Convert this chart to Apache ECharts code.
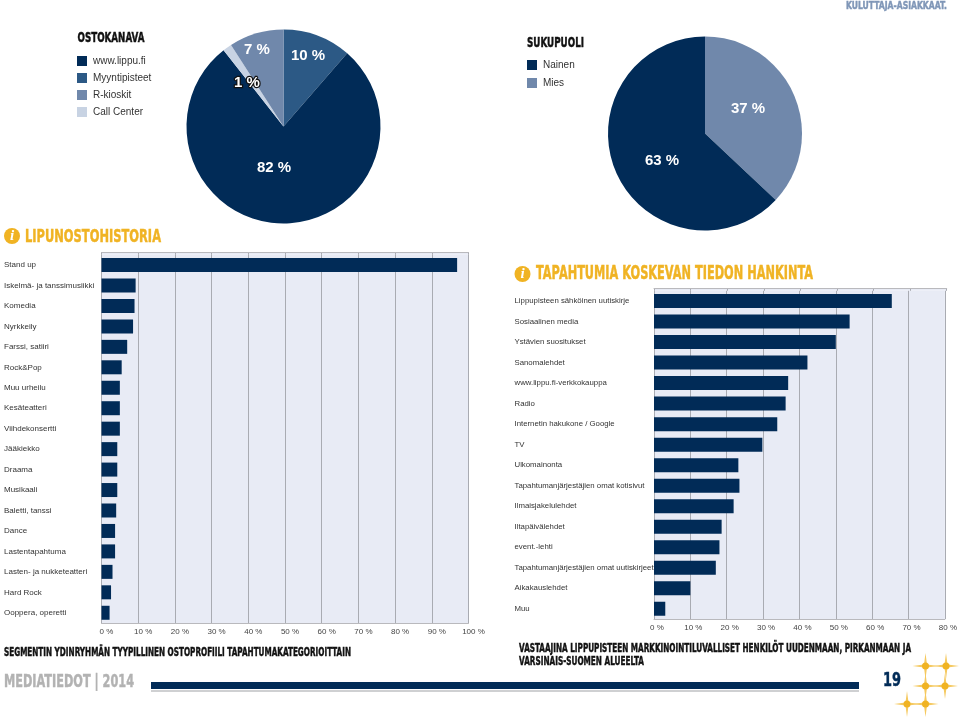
<!DOCTYPE html>
<html>
<head>
<meta charset="utf-8">
<script src="https://cdn.jsdelivr.net/npm/echarts@6/dist/echarts.min.js"></script>
<style>
html, body { margin: 0; padding: 0; background: #fff; }
#chart { width: 960px; height: 719px; }
</style>
</head>
<body>
<div id="chart"></div>
<script>
var channelNames = ['Myyntipisteet', 'www.lippu.fi', 'Call Center', 'R-kioskit'];
var channelShares = [11.4, 78, 1.5, 9.1];
var channelLabels = ['10 %', '82 %', '1 %', '7 %'];
var channelLegend = ['www.lippu.fi', 'Myyntipisteet', 'R-kioskit', 'Call Center'];

var genderNames = ['Mies', 'Nainen'];
var genderValues = [37, 63];
var genderLabels = ['37 %', '63 %'];
var genderLegend = ['Nainen', 'Mies'];

var eventCats = ['Stand up', 'Iskelmä- ja tanssimusiikki', 'Komedia', 'Nyrkkeily', 'Farssi, satiiri', 'Rock&Pop',
    'Muu urheilu', 'Kesäteatteri', 'Viihdekonsertti', 'Jääkiekko', 'Draama', 'Musikaali', 'Baletti, tanssi',
    'Dance', 'Lastentapahtuma', 'Lasten- ja nukketeatteri', 'Hard Rock', 'Ooppera, operetti'];
var eventValues = [96.9, 9.3, 9, 8.6, 7, 5.5, 5, 5, 5, 4.3, 4.3, 4.3, 4, 3.7, 3.7, 3, 2.6, 2.2];

var sourceCats = ['Lippupisteen sähköinen uutiskirje', 'Sosiaalinen media', 'Ystävien suositukset', 'Sanomalehdet',
    'www.lippu.fi-verkkokauppa', 'Radio', 'Internetin hakukone / Google', 'TV', 'Ulkomainonta',
    'Tapahtumanjärjestäjien omat kotisivut', 'Ilmaisjakelulehdet', 'Iltapäivälehdet', 'event.-lehti',
    'Tapahtumanjärjestäjien omat uutiskirjeet', 'Aikakauslehdet', 'Muu'];
var sourceValues = [65.4, 53.8, 50, 42.2, 36.9, 36.2, 33.9, 29.8, 23.2, 23.5, 21.9, 18.6, 18, 17, 10, 3.1];

var navy = '#012b57';
var gold = '#f0b323';
var sans = '"Liberation Sans", Arial, sans-serif';
var headFont = '"DejaVu Sans", sans-serif';
var colors = { 'www.lippu.fi': navy, 'Myyntipisteet': '#2c5985', 'R-kioskit': '#7088ab', 'Call Center': '#c8d3e3',
               'Nainen': navy, 'Mies': '#7088ab' };

var chart = echarts.init(document.getElementById('chart'));
var measure = document.createElement('canvas').getContext('2d');

function pieSeries(center, names, values, labels, spots){
    var data = [];
    for(var i in names){
        var item = { name: names[i], value: values[i], itemStyle: { color: colors[names[i]] } };
        // the small slice label sits across two colours, so it has a dark outline
        if(labels[i] == '1 %')
            item.label = { textBorderColor: '#111', textBorderWidth: 2.5 };
        data.push(item);
    }
    return {
        type: 'pie',
        silent: true,
        center: center,
        radius: 97,
        data: data,
        labelLine: { show: false },
        label: {
            position: 'inside',
            color: '#fff',
            fontFamily: sans,
            fontSize: 15,
            fontWeight: 'bold',
            formatter: function(p){
                return labels[p.dataIndex];
            }
        },
        labelLayout: function(p){
            return { x: spots[p.dataIndex][0], y: spots[p.dataIndex][1], align: 'center', verticalAlign: 'middle' };
        }
    };
}

function legendAt(left, top, gap, names){
    return {
        orient: 'vertical',
        left: left,
        top: top,
        padding: 0,
        itemWidth: 10,
        itemHeight: 10,
        itemGap: gap,
        icon: 'rect',
        selectedMode: false,
        data: names,
        textStyle: { fontFamily: sans, fontSize: 10, color: '#333', padding: [0, 0, 0, 1] }
    };
}

function mainX(index, max, pad){
    return {
        type: 'value',
        gridIndex: index,
        min: 0,
        max: max,
        interval: 10,
        axisLine: { show: true, lineStyle: { color: '#b9b9bd', width: 1 } },
        axisTick: { show: false },
        splitLine: { show: true, lineStyle: { color: '#a9abb2', width: 1 } },
        axisLabel: { formatter: '{value} %', margin: 5, fontFamily: sans, fontSize: 8, color: '#444',
                     padding: [0, 0, 0, pad], showMinLabel: true, showMaxLabel: true }
    };
}

// thin strip above the first band, the plot frame starts a little higher than the bars' rhythm
function stripX(index, max){
    return {
        type: 'value',
        gridIndex: index,
        position: 'top',
        min: 0,
        max: max,
        interval: 10,
        axisLine: { show: true, lineStyle: { color: '#b9b9bd', width: 1 } },
        axisTick: { show: false },
        axisLabel: { show: false },
        splitLine: { show: true, lineStyle: { color: '#a9abb2', width: 1 } }
    };
}

function mainY(index, cats, margin, size){
    return {
        type: 'category',
        gridIndex: index,
        inverse: true,
        data: cats,
        axisLine: { show: false },
        axisTick: { show: false },
        axisLabel: { interval: 0, align: 'left', margin: margin, fontFamily: sans, fontSize: size, color: '#333' }
    };
}

function stripY(index){
    return { type: 'category', gridIndex: index, data: [''], show: false };
}

function barSeries(index, values){
    return {
        type: 'bar',
        silent: true,
        xAxisIndex: index,
        yAxisIndex: index,
        barWidth: 14,
        itemStyle: { color: navy },
        data: values
    };
}

// no impact-like font here, so squeeze a bold face to the width of the original heading
function heading(text, x, y, size, color, width){
    measure.font = 'bold ' + size + 'px ' + headFont;
    return {
        type: 'text',
        x: x,
        y: y,
        scaleX: width / measure.measureText(text).width,
        style: { text: text, fill: color, stroke: color, lineWidth: 0.5, fontFamily: headFont, fontWeight: 'bold',
                 fontSize: size, verticalAlign: 'middle' }
    };
}

function infoIcon(x, y){
    return {
        type: 'group',
        children: [
            { type: 'circle', shape: { cx: x, cy: y, r: 8 }, style: { fill: gold } },
            { type: 'text', x: x, y: y, style: { text: 'i', fill: '#fff', fontFamily: '"Liberation Serif", serif',
              fontStyle: 'italic', fontWeight: 'bold', fontSize: 15, align: 'center', verticalAlign: 'middle' } }
        ]
    };
}

function star(cx, cy){
    var a = 13, b = 13, w = 1.5;
    return {
        type: 'group',
        children: [
            { type: 'polygon', shape: { points: [[cx - a, cy], [cx - w, cy - w], [cx, cy - b], [cx + w, cy - w],
                                                 [cx + a, cy], [cx + w, cy + w], [cx, cy + b], [cx - w, cy + w]] },
              style: { fill: '#f5c95f' } },
            { type: 'circle', shape: { cx: cx, cy: cy, r: 3.5 }, style: { fill: gold } }
        ]
    };
}

chart.setOption({
    animation: false,
    backgroundColor: '#fff',
    legend: [legendAt(77, 56, 7, channelLegend), legendAt(527, 60, 8, genderLegend)],
    grid: [
        { left: 101.5, width: 367, top: 254.8, height: 368.2, show: true, backgroundColor: '#e8ebf5', borderWidth: 0 },
        { left: 654, width: 292.7, top: 290.8, height: 328.2, show: true, backgroundColor: '#e8ebf5', borderWidth: 0 },
        { left: 101.5, width: 367, top: 252, height: 2.8, show: true, backgroundColor: '#e8ebf5', borderWidth: 0 },
        { left: 654, width: 292.7, top: 288, height: 2.8, show: true, backgroundColor: '#e8ebf5', borderWidth: 0 }
    ],
    xAxis: [mainX(0, 100, 10), mainX(1, 80, 6), stripX(2, 100), stripX(3, 80)],
    yAxis: [mainY(0, eventCats, 97.5, 8), mainY(1, sourceCats, 139.5, 7.8), stripY(2), stripY(3)],
    series: [
        pieSeries([283.5, 126.5], channelNames, channelShares, channelLabels,
                  [[308, 56], [274, 168], [247, 83], [257, 50]]),
        pieSeries([705, 133.5], genderNames, genderValues, genderLabels, [[748, 109], [662, 161]]),
        barSeries(0, eventValues),
        barSeries(1, sourceValues)
    ],
    graphic: [
        heading('KULUTTAJA-ASIAKKAAT.', 846, 6, 11, '#7f96b7', 101),
        heading('OSTOKANAVA', 77.5, 38, 14.5, '#111', 67),
        heading('SUKUPUOLI', 527, 43, 14.5, '#111', 57),
        infoIcon(12, 236),
        heading('LIPUNOSTOHISTORIA', 25, 237, 18, gold, 136),
        infoIcon(522.5, 274),
        heading('TAPAHTUMIA KOSKEVAN TIEDON HANKINTA', 536, 274, 19, gold, 277),
        heading('SEGMENTIN YDINRYHMÄN TYYPILLINEN OSTOPROFIILI TAPAHTUMAKATEGORIOITTAIN', 4, 653, 12, '#111', 347),
        heading('VASTAAJINA LIPPUPISTEEN MARKKINOINTILUVALLISET HENKILÖT UUDENMAAN, PIRKANMAAN JA', 519, 649, 12, '#111', 392),
        heading('VARSINAIS-SUOMEN ALUEELTA', 519, 662, 12, '#111', 125),
        heading('MEDIATIEDOT | 2014', 4, 682, 18, '#b2b2b2', 130),
        heading('19', 883, 681, 20, navy, 18),
        { type: 'rect', shape: { x: 151, y: 682, width: 708, height: 7 }, style: { fill: navy } },
        { type: 'rect', shape: { x: 151, y: 690, width: 708, height: 2 }, style: { fill: '#cfd0d2' } },
        star(925.5, 666), star(946, 666), star(925.5, 686), star(945, 686), star(907, 704), star(925.5, 704)
    ]
});
</script>
</body>
</html>
